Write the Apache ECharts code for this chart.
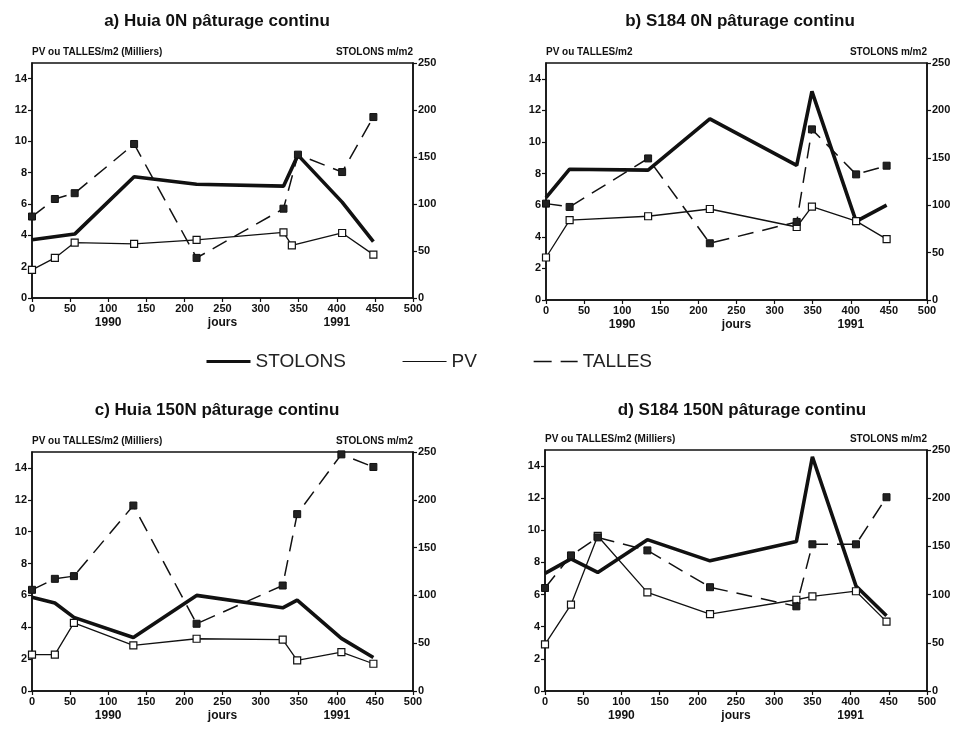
<!DOCTYPE html>
<html><head><meta charset="utf-8">
<script src="https://cdn.jsdelivr.net/npm/echarts@6/dist/echarts.min.js"></script>
<style>html,body{margin:0;padding:0;background:#fff}#c{width:960px;height:729px}</style>
</head><body><div id="c"></div>
<script>
// ---- data (x = jours, PV/TALLES in milliers/m2, STOLONS in m/m2) ----
const titles = ['a) Huia 0N pâturage continu','b) S184 0N pâturage continu','c) Huia 150N pâturage continu','d) S184 150N pâturage continu'];
const leftNames = ['PV ou TALLES/m2 (Milliers)','PV ou TALLES/m2','PV ou TALLES/m2 (Milliers)','PV ou TALLES/m2 (Milliers)'];
const rightName = 'STOLONS m/m2';
const seriesNames = ['STOLONS','PV','TALLES'];
const xTicks = [0,50,100,150,200,250,300,350,400,450,500];
const subLabels = {100:'1990',250:'jours',400:'1991'};

const daysA    = [0,30,56,134,216,330,349,407,448];
const daysPvA  = [0,30,56,134,216,330,341,407,448];
const stolonsA = [62,null,68,129,121,119,152,102,60];
const pvA      = [1.80,2.56,3.54,3.46,3.71,4.19,3.36,4.15,2.77];
const tallesA  = [5.20,6.32,6.69,9.83,2.56,5.70,9.15,8.04,11.55];

const daysB    = [0,31,134,215,329,349,407,447];
const stolonsB = [108,138,137,191,142,220,83,100];
const pvB      = [2.69,5.05,5.30,5.76,4.62,5.91,4.99,3.85];
const tallesB  = [6.10,5.89,8.96,3.59,4.94,10.8,7.95,8.5];

const daysC    = [0,30,55,133,216,329,348,406,448];
const stolonsC = [98,92,77,56,100,87,95,55,35];
const pvC      = [2.28,2.28,4.28,2.86,3.28,3.22,1.92,2.44,1.71];
const tallesC  = [6.35,7.04,7.21,11.64,4.22,6.62,11.1,14.85,14.06];

const daysD    = [0,34,69,134,216,329,350,407,447];
const stolonsD = [122,137,123,157,135,155,243,109,78];
const pvD      = [2.90,5.37,9.65,6.14,4.78,5.68,5.89,6.21,4.32];
const tallesD  = [6.41,8.44,9.56,8.75,6.46,5.27,9.13,9.13,12.06];

const panels = [
  {days:daysA, pvDays:daysPvA, st:stolonsA, pv:pvA, ta:tallesA},
  {days:daysB, pvDays:daysB, st:stolonsB, pv:pvB, ta:tallesB},
  {days:daysC, pvDays:daysC, st:stolonsC, pv:pvC, ta:tallesC},
  {days:daysD, pvDays:daysD, st:stolonsD, pv:pvD, ta:tallesD}
];

// ---- layout ----
const grids = [
  {left:32, top:63, width:381, height:235},
  {left:546, top:63, width:381, height:237},
  {left:32, top:452, width:381, height:239},
  {left:545, top:450, width:382, height:241}
];
const titlePos = [{x:212,y:8},{x:735,y:8},{x:212,y:397},{x:737,y:397}];
const FF = '"Liberation Sans", Arial, sans-serif';
const INK = '#111';

function pairs(xs, ys){ const out=[]; xs.forEach((x,i)=>{ if(ys[i]!=null) out.push([x,ys[i]]); }); return out; }

const option = {
  backgroundColor:'#fff',
  animation:false,
  title: titles.map((t,i)=>({text:t, left:titlePos[i].x, top:titlePos[i].y, textAlign:'center',
     textStyle:{fontFamily:FF, fontSize:17, fontWeight:'bold', color:INK}})),
  legend:{
    data:[
      {name:'STOLONS', lineStyle:{width:3, color:INK}},
      {name:'PV', lineStyle:{width:1.2, color:INK}},
      {name:'TALLES', lineStyle:{width:1.5, color:INK, type:[18,9]}}
    ],
    top:347, left:200, itemWidth:44, itemHeight:14, itemGap:56,
    textStyle:{fontFamily:FF, fontSize:19, color:'#222'},
    itemStyle:{opacity:0}
  },
  grid: grids.map(g=>Object.assign({show:true, borderColor:INK, borderWidth:1.5, backgroundColor:'transparent'}, g)),
  xAxis: grids.map((g,i)=>({
    type:'value', gridIndex:i, min:0, max:500, interval:50,
    axisLine:{lineStyle:{color:INK, width:1.5}},
    axisTick:{length:4, lineStyle:{color:INK, width:1.2}},
    splitLine:{show:false},
    axisLabel:{margin:4, fontFamily:FF, fontSize:11, fontWeight:'bold', color:INK, lineHeight:13,
      formatter:v=> subLabels[v] ? v+'\n{y|'+subLabels[v]+'}' : String(v),
      rich:{y:{fontFamily:FF, fontSize:12, fontWeight:'bold', color:INK, lineHeight:15}}}
  })),
  yAxis: [].concat(...grids.map((g,i)=>[
    {type:'value', gridIndex:i, position:'left', min:0, max:15, interval:2,
     name:leftNames[i], nameLocation:'end', nameGap:6,
     nameTextStyle:{align:'left', fontFamily:FF, fontSize:10, fontWeight:'bold', color:INK},
     axisLine:{show:true, lineStyle:{color:INK, width:1.5}},
     axisTick:{show:true, length:4, lineStyle:{color:INK, width:1.2}},
     splitLine:{show:false},
     axisLabel:{showMaxLabel:false, margin:5, fontFamily:FF, fontSize:11, fontWeight:'bold', color:INK}},
    {type:'value', gridIndex:i, position:'right', min:0, max:250, interval:50,
     name:rightName, nameLocation:'end', nameGap:6,
     nameTextStyle:{align:'right', fontFamily:FF, fontSize:10, fontWeight:'bold', color:INK},
     axisLine:{show:true, lineStyle:{color:INK, width:1.5}},
     axisTick:{show:true, length:4, lineStyle:{color:INK, width:1.2}},
     splitLine:{show:false},
     axisLabel:{margin:5, fontFamily:FF, fontSize:11, fontWeight:'bold', color:INK}}
  ])),
  series: [].concat(...panels.map((p,i)=>[
    {name:'STOLONS', type:'line', xAxisIndex:i, yAxisIndex:2*i+1, data:pairs(p.days,p.st),
     symbol:'none', lineStyle:{color:INK, width:3.6}, itemStyle:{color:INK}, z:3},
    {name:'PV', type:'line', xAxisIndex:i, yAxisIndex:2*i, data:pairs(p.pvDays,p.pv),
     symbol:'rect', symbolSize:7, showAllSymbol:true,
     lineStyle:{color:INK, width:1.3}, itemStyle:{color:'#fff', borderColor:INK, borderWidth:1.2}, z:4},
    {name:'TALLES', type:'line', xAxisIndex:i, yAxisIndex:2*i, data:pairs(p.days,p.ta),
     symbol:'rect', symbolSize:7, showAllSymbol:true,
     lineStyle:{color:INK, width:1.5, type:[16,9]}, itemStyle:{color:'#222', borderColor:INK, borderWidth:1}, z:5}
  ]))
};
const chart = echarts.init(document.getElementById('c'), null, {renderer:'canvas'});
chart.setOption(option);
</script></body></html>
